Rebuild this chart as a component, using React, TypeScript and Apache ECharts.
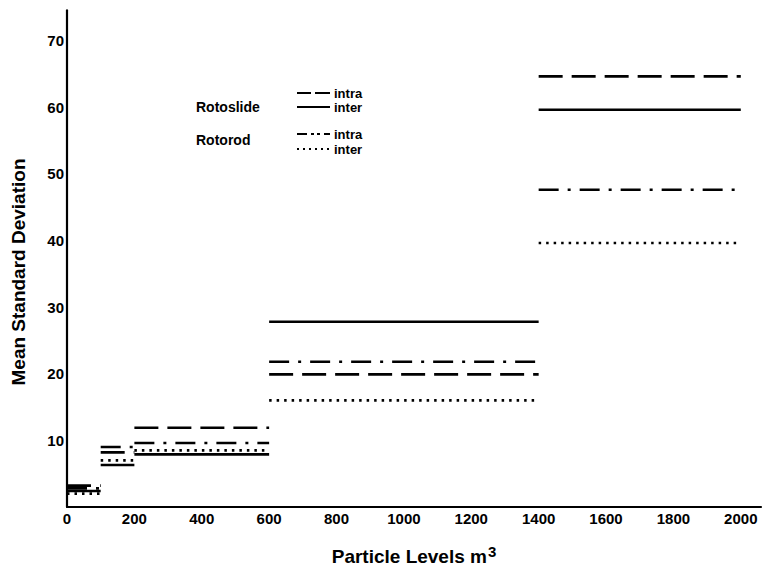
import React, { useEffect, useRef } from 'react';
import * as echarts from 'echarts';

// Particle level intervals (m3)
const intervalStarts = [0, 100, 200, 600, 1400];
const intervalEnds = [100, 200, 600, 1400, 2000];

// Mean standard deviation per interval
const rotoslideIntra = [3.2, 8.2, 11.9, 19.9, 64.6];
const rotoslideInter = [2.4, 6.3, 7.9, 27.8, 59.6];
const rotorodIntra = [2.8, 9.0, 9.6, 21.8, 47.6];
const rotorodInter = [2.0, 7.0, 8.5, 16.0, 39.6];

const legendGroups = ['Rotoslide', 'Rotorod'];
const legendItems = ['intra', 'inter'];

const FONT = 'Liberation Sans';

export default function App() {
  const ref = useRef<HTMLDivElement>(null);

  useEffect(() => {
    const chart = echarts.init(ref.current!, null, { renderer: 'svg' });

    const styles = [
      { name: 'Rotoslide intra', values: rotoslideIntra, dash: [24, 9] as any, width: 2.6 },
      { name: 'Rotoslide inter', values: rotoslideInter, dash: 'solid' as any, width: 2.6 },
      { name: 'Rotorod intra', values: rotorodIntra, dash: [20, 9, 3, 9] as any, width: 2.6 },
      { name: 'Rotorod inter', values: rotorodInter, dash: [2.5, 5] as any, width: 2.6 },
    ];

    const series: any[] = [];
    styles.forEach((s) => {
      s.values.forEach((v, i) => {
        series.push({
          type: 'line',
          name: s.name,
          data: [
            [intervalStarts[i], v],
            [intervalEnds[i], v],
          ],
          symbol: 'none',
          silent: true,
          lineStyle: { color: '#000', width: s.width, type: s.dash },
        });
      });
    });

    const sampleX1 = 297;
    const sampleX2 = 330;
    const rows = [
      { y: 93, dash: [14, 4, 7, 0] },
      { y: 107, dash: null },
      { y: 134, dash: [10, 4, 3, 3, 3, 4] },
      { y: 149, dash: [2, 4] },
    ];

    const graphic: any[] = [];
    rows.forEach((r, i) => {
      graphic.push({
        type: 'line',
        shape: { x1: sampleX1, y1: r.y, x2: sampleX2, y2: r.y },
        style: { stroke: '#000', lineWidth: 2.2, lineDash: r.dash || undefined },
        silent: true,
      });
      graphic.push({
        type: 'text',
        x: sampleX2 + 4,
        y: r.y,
        style: {
          text: legendItems[i % 2],
          font: `bold 13px "${FONT}"`,
          fill: '#000',
          textVerticalAlign: 'middle',
        },
        silent: true,
      });
    });
    graphic.push({
      type: 'text',
      x: 196,
      y: 107,
      style: { text: legendGroups[0], font: `bold 14px "${FONT}"`, fill: '#000', textVerticalAlign: 'middle' },
      silent: true,
    });
    graphic.push({
      type: 'text',
      x: 196,
      y: 140,
      style: { text: legendGroups[1], font: `bold 14px "${FONT}"`, fill: '#000', textVerticalAlign: 'middle' },
      silent: true,
    });
    graphic.push({
      type: 'text',
      x: 18,
      y: 272,
      rotation: Math.PI / 2,
      style: {
        text: 'Mean Standard Deviation',
        font: `bold 19px "${FONT}"`,
        fill: '#000',
        textAlign: 'center',
        textVerticalAlign: 'middle',
      },
      silent: true,
    });

    chart.setOption({
      animation: false,
      backgroundColor: '#fff',
      grid: { left: 67, right: 3, top: 10.4, bottom: 54, containLabel: false },
      graphic,
      xAxis: {
        type: 'value',
        min: 0,
        max: 2060,
        interval: 200,
        name: '{a|Particle Levels m}{b|3}',
        nameLocation: 'middle',
        nameGap: 37,
        nameTextStyle: {
          rich: {
            a: { fontFamily: FONT, fontWeight: 'bold', fontSize: 19, color: '#000', verticalAlign: 'bottom' },
            b: { fontFamily: FONT, fontWeight: 'bold', fontSize: 15, color: '#000', padding: [0, 0, 7, 1], verticalAlign: 'bottom' },
          },
        },
        axisLine: { show: true, lineStyle: { color: '#000', width: 2.2 } },
        axisTick: { show: false },
        splitLine: { show: false },
        axisLabel: {
          margin: 4,
          fontFamily: FONT,
          fontWeight: 'bold',
          fontSize: 15,
          color: '#000',
          formatter: (v: number) => (v % 200 === 0 && v <= 2000 ? String(v) : ''),
        },
      },
      yAxis: {
        type: 'value',
        min: 0,
        max: 74.5,
        interval: 10,
        axisLine: { show: true, lineStyle: { color: '#000', width: 2.2 } },
        axisTick: { show: false },
        splitLine: { show: false },
        axisLabel: {
          margin: 3,
          fontFamily: FONT,
          fontWeight: 'bold',
          fontSize: 15,
          color: '#000',
          formatter: (v: number) => (v > 0 && v % 10 === 0 ? String(v) : ''),
        },
      },
      series,
    });

    return () => chart.dispose();
  }, []);

  return (
    <div
      ref={ref}
      style={{ position: 'fixed', left: 0, top: 0, width: 764, height: 571, background: '#fff' }}
    />
  );
}
